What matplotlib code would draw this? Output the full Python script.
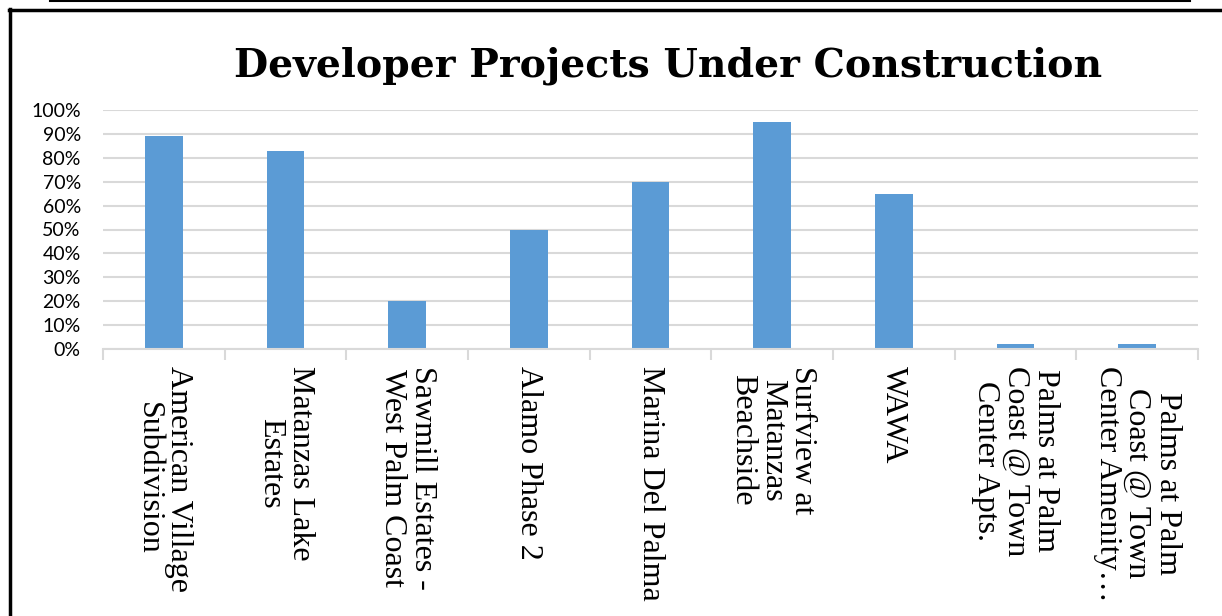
import numpy as np
import matplotlib.pyplot as plt
from matplotlib.lines import Line2D

projects = [
    'American Village\nSubdivision',
    'Matanzas Lake\nEstates',
    'Sawmill Estates -\nWest Palm Coast',
    'Alamo Phase 2',
    'Marina Del Palma',
    'Surfview at\nMatanzas\nBeachside',
    'WAWA',
    'Palms at Palm\nCoast @ Town\nCenter Apts.',
    'Palms at Palm\nCoast @ Town\nCenter Amenity\u2026',
]
completion = [0.89, 0.83, 0.20, 0.50, 0.70, 0.95, 0.65, 0.02, 0.02]
yticks = np.arange(0, 1.01, 0.1)

bar_colour = '#5b9bd5'
grid_colour = '#d9d9d9'

fig = plt.figure(figsize=(12.22, 6.16), dpi=100)
ax = fig.add_axes([103 / 1222, 1 - 349 / 616, 1095 / 1222, 239 / 616])

x = np.arange(len(projects))
ax.bar(x, completion, width=0.31, color=bar_colour, zorder=3)

ax.set_xlim(-0.5, len(projects) - 0.5)
ax.set_ylim(0, 1)
ax.set_yticks(yticks)
ax.set_yticklabels(['%d%%' % round(v * 100) for v in yticks],
                   fontsize=14, family='Lato')
ax.tick_params(axis='y', length=0, pad=16)
ax.yaxis.grid(True, color=grid_colour, linewidth=1.5, zorder=0)

# category labels, rotated and centred like the spreadsheet did
ax.set_xticks(x)
ax.set_xticklabels(projects, rotation=-90, ha='center', va='top',
                   multialignment='center', family='Liberation Serif',
                   fontsize=23, linespacing=1.05)
ax.tick_params(axis='x', which='major', length=0, pad=12)
ax.set_xticks(np.arange(-0.5, len(projects)), minor=True)
ax.tick_params(axis='x', which='minor', length=8, width=1.5, color=grid_colour)

for s in ['top', 'right', 'left']:
    ax.spines[s].set_visible(False)
ax.spines['bottom'].set_color(grid_colour)
ax.spines['bottom'].set_linewidth(1.5)
ax.spines['bottom'].set_zorder(4)

fig.text(668 / 1222, 1 - 66 / 616, 'Developer Projects Under Construction',
         ha='center', va='center', fontsize=28.4, fontweight='bold',
         family='DejaVu Serif')

# frame edges from the scanned page
fig.add_artist(Line2D([50 / 1222, 1190 / 1222], [1 - 0.5 / 616] * 2,
                      color='black', linewidth=1.5, transform=fig.transFigure))
fig.add_artist(Line2D([9 / 1222, 1.0], [1 - 9.5 / 616] * 2,
                      color='black', linewidth=2.5, transform=fig.transFigure))
fig.add_artist(Line2D([9.5 / 1222] * 2, [0, 1 - 8.5 / 616],
                      color='black', linewidth=2.5, transform=fig.transFigure))

fig.savefig('out.png', dpi=100)
